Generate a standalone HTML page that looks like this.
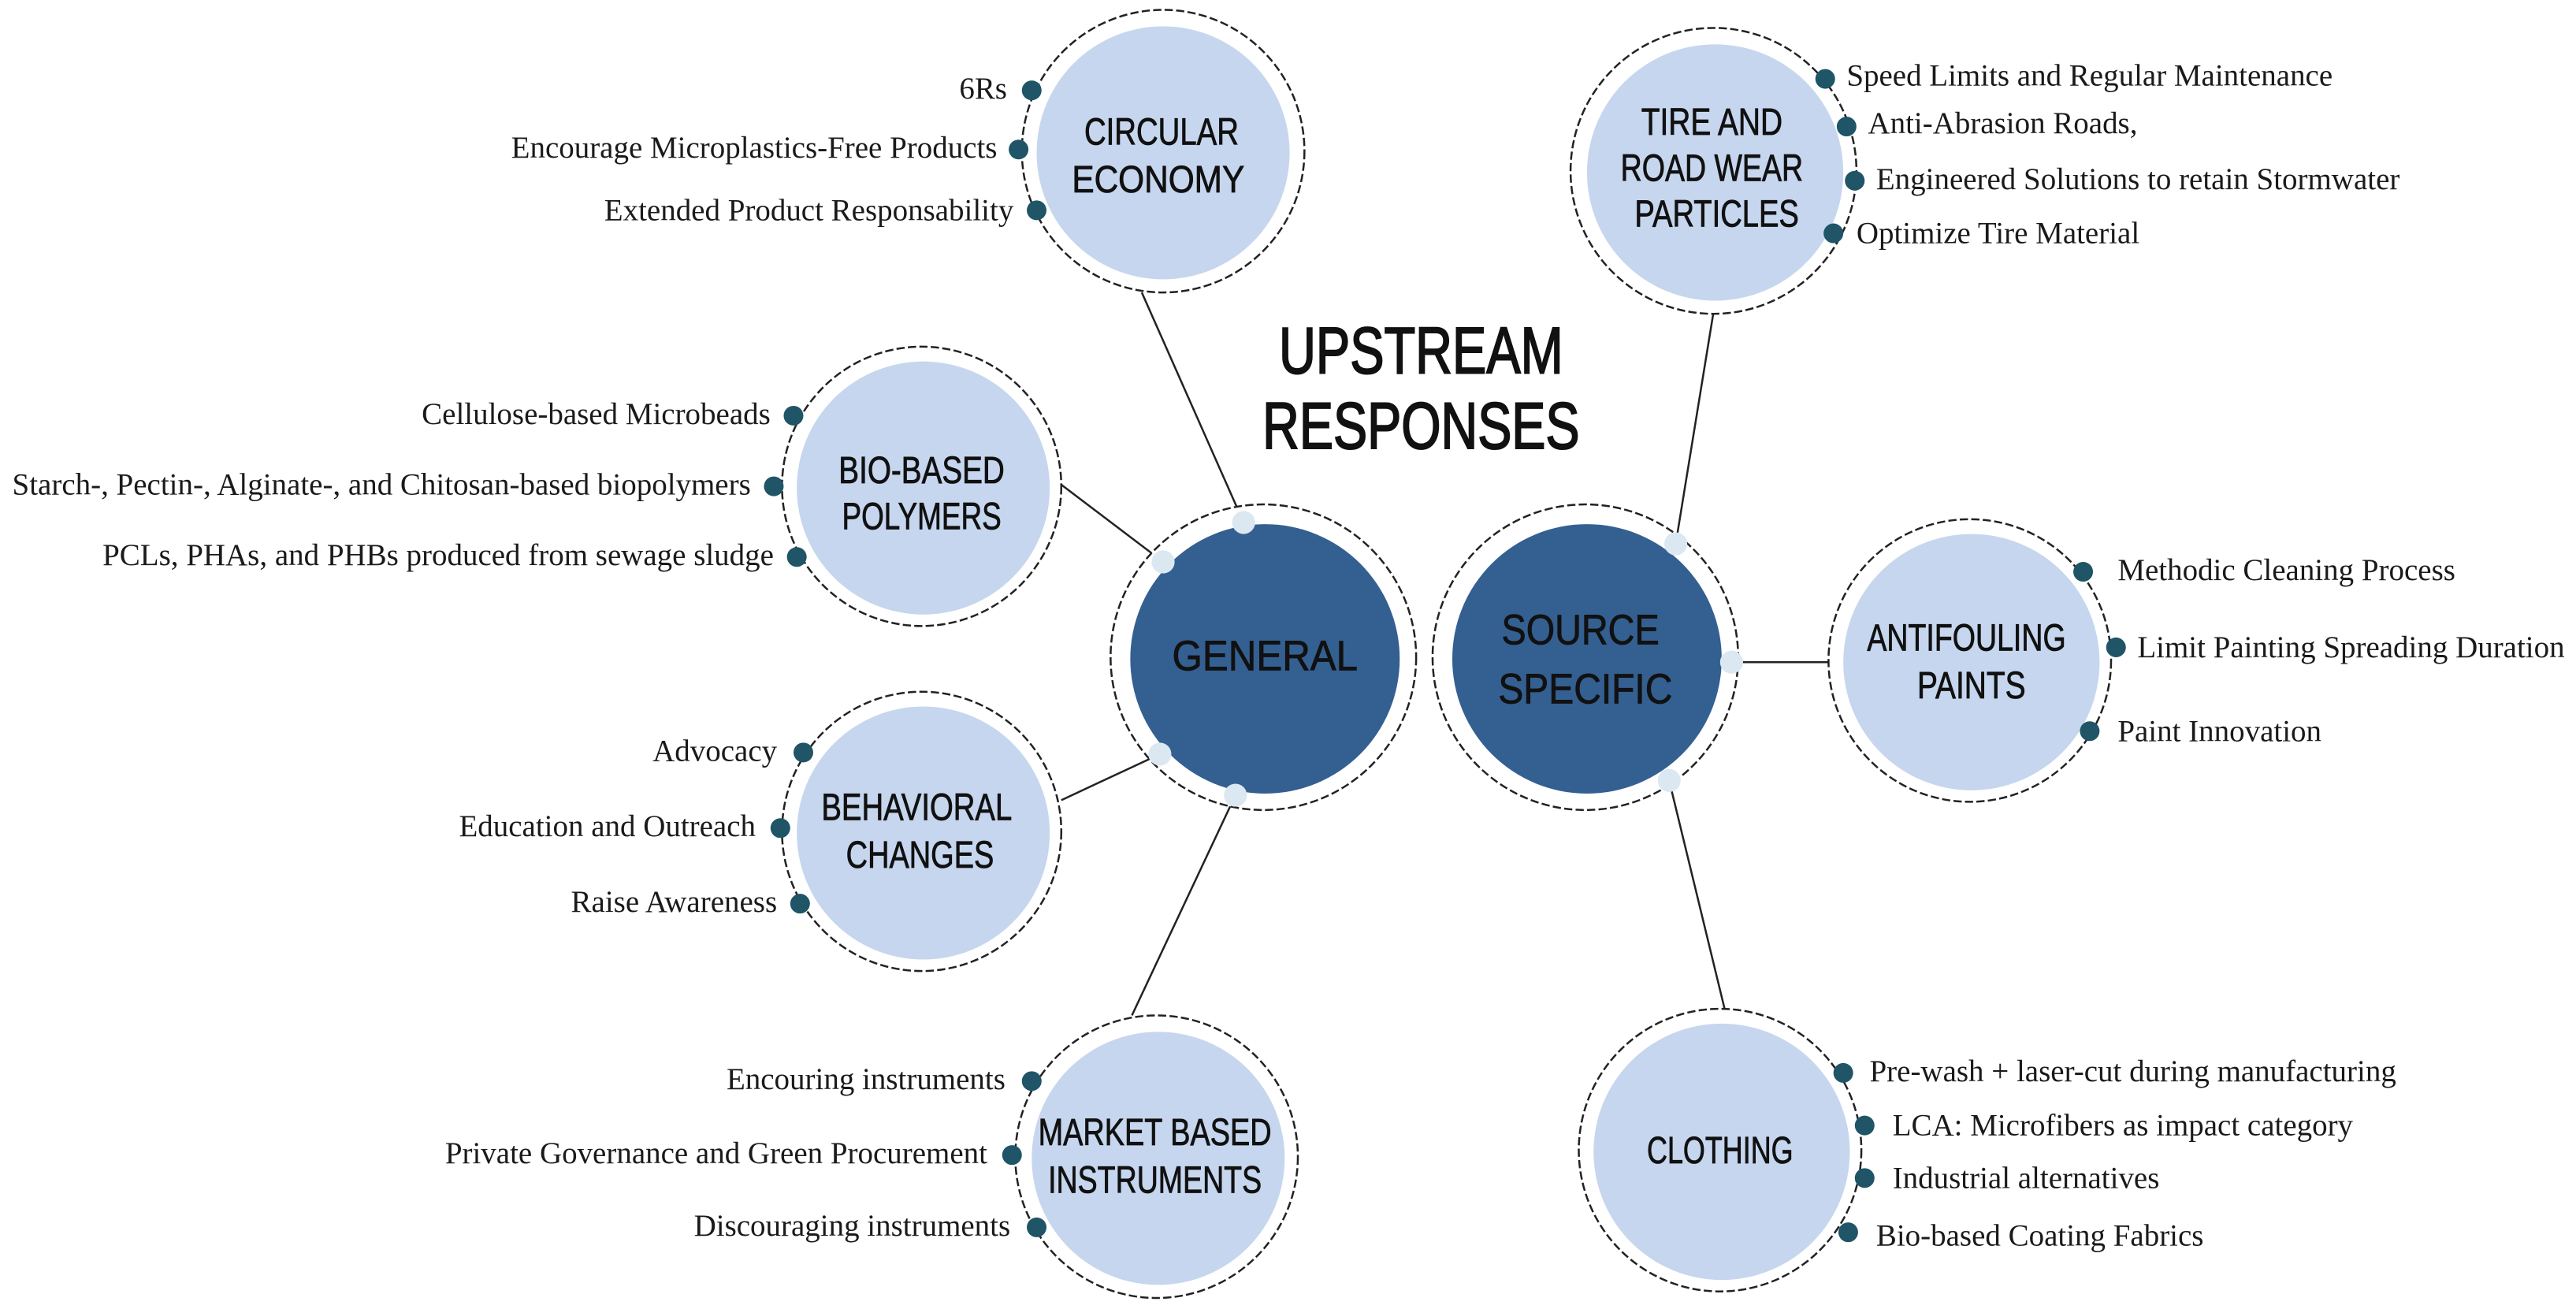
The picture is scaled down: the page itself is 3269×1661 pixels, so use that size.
<!DOCTYPE html>
<html><head><meta charset="utf-8"><style>
html,body{margin:0;padding:0;background:#fff;}
svg{display:block;}
.lbl{font-family:"Liberation Serif",serif;font-size:18.7px;fill:#1a1a1a;}
.nd{font-family:"Liberation Sans",sans-serif;font-size:23px;fill:#111;stroke:#111;stroke-width:0.4;text-anchor:middle;}
.ttl{font-family:"Liberation Sans",sans-serif;font-size:40px;fill:#111;stroke:#111;stroke-width:1;text-anchor:middle;}
</style></head><body>
<svg width="3269" height="1661" viewBox="0 0 1568 796.7" preserveAspectRatio="none" xmlns="http://www.w3.org/2000/svg">
<g stroke="#222" stroke-width="1.2" fill="none">
<line x1="757" y1="318" x2="695" y2="178"/>
<line x1="708" y1="342" x2="646" y2="295"/>
<line x1="706" y1="459" x2="646" y2="487"/>
<line x1="752" y1="484" x2="689" y2="618"/>
<line x1="1020" y1="331" x2="1043" y2="190"/>
<line x1="1054" y1="403" x2="1114" y2="403"/>
<line x1="1016" y1="475" x2="1050" y2="615"/>
</g>
<g stroke="#222" stroke-width="1.2" stroke-dasharray="5 2" fill="#fff">
<circle cx="769" cy="400" r="93"/>
<circle cx="965" cy="400" r="93"/>
<circle cx="708" cy="92" r="86"/>
<circle cx="561" cy="296" r="85"/>
<circle cx="561" cy="506" r="85"/>
<circle cx="704" cy="704" r="86"/>
<circle cx="1043" cy="104" r="87"/>
<circle cx="1199" cy="402" r="86"/>
<circle cx="1047" cy="700" r="86"/>
</g>
<g fill="#345f91">
<circle cx="770" cy="401" r="82"/>
<circle cx="966" cy="401" r="82"/>
</g>
<g fill="#c6d6ee">
<circle cx="708" cy="93" r="77"/>
<circle cx="562" cy="297" r="77"/>
<circle cx="562" cy="507" r="77"/>
<circle cx="705" cy="705" r="77"/>
<circle cx="1044" cy="105" r="78"/>
<circle cx="1200" cy="403" r="78"/>
<circle cx="1048" cy="701" r="78"/>
</g>
<g fill="#dbe8f1">
<circle cx="757" cy="318" r="7"/><circle cx="708" cy="342" r="7"/><circle cx="706" cy="459" r="7"/><circle cx="752" cy="484" r="7"/>
<circle cx="1020" cy="331" r="7"/><circle cx="1054" cy="403" r="7"/><circle cx="1016" cy="475" r="7"/>
</g>
<g fill="#1f5566">
<circle cx="628" cy="55" r="6"/><circle cx="620" cy="91" r="6"/><circle cx="631" cy="128" r="6"/>
<circle cx="483" cy="253" r="6"/><circle cx="471" cy="296" r="6"/><circle cx="485" cy="339" r="6"/>
<circle cx="489" cy="458" r="6"/><circle cx="475" cy="504" r="6"/><circle cx="487" cy="550" r="6"/>
<circle cx="628" cy="658" r="6"/><circle cx="616" cy="703" r="6"/><circle cx="631" cy="747" r="6"/>
<circle cx="1111" cy="48" r="6"/><circle cx="1124" cy="77" r="6"/><circle cx="1129" cy="110" r="6"/><circle cx="1116" cy="142" r="6"/>
<circle cx="1268" cy="348" r="6"/><circle cx="1288" cy="394" r="6"/><circle cx="1272" cy="445" r="6"/>
<circle cx="1122" cy="653" r="6"/><circle cx="1135" cy="685" r="6"/><circle cx="1135" cy="717" r="6"/><circle cx="1125" cy="750" r="6"/>
</g>
<text class="ttl" x="865" y="227" textLength="173" lengthAdjust="spacingAndGlyphs">UPSTREAM</text>
<text class="ttl" x="865" y="273" textLength="193" lengthAdjust="spacingAndGlyphs">RESPONSES</text>
<text class="nd" x="770" y="408" style="font-size:26px" textLength="113" lengthAdjust="spacingAndGlyphs">GENERAL</text>
<text class="nd" x="962" y="392" style="font-size:26px" textLength="96" lengthAdjust="spacingAndGlyphs">SOURCE</text>
<text class="nd" x="965" y="428" style="font-size:26px" textLength="106" lengthAdjust="spacingAndGlyphs">SPECIFIC</text>
<text class="nd" x="707" y="88" textLength="94" lengthAdjust="spacingAndGlyphs">CIRCULAR</text><text class="nd" x="705" y="117" textLength="105" lengthAdjust="spacingAndGlyphs">ECONOMY</text>
<text class="nd" x="561" y="294" textLength="101" lengthAdjust="spacingAndGlyphs">BIO-BASED</text><text class="nd" x="561" y="322" textLength="97" lengthAdjust="spacingAndGlyphs">POLYMERS</text>
<text class="nd" x="558" y="499" textLength="116" lengthAdjust="spacingAndGlyphs">BEHAVIORAL</text><text class="nd" x="560" y="528" textLength="90" lengthAdjust="spacingAndGlyphs">CHANGES</text>
<text class="nd" x="703" y="697" textLength="142" lengthAdjust="spacingAndGlyphs">MARKET BASED</text><text class="nd" x="703" y="726" textLength="130" lengthAdjust="spacingAndGlyphs">INSTRUMENTS</text>
<text class="nd" x="1042" y="82" textLength="86" lengthAdjust="spacingAndGlyphs">TIRE AND</text><text class="nd" x="1042" y="110" textLength="111" lengthAdjust="spacingAndGlyphs">ROAD WEAR</text><text class="nd" x="1045" y="138" textLength="100" lengthAdjust="spacingAndGlyphs">PARTICLES</text>
<text class="nd" x="1197" y="396" textLength="121" lengthAdjust="spacingAndGlyphs">ANTIFOULING</text><text class="nd" x="1200" y="425" textLength="66" lengthAdjust="spacingAndGlyphs">PAINTS</text>
<text class="nd" x="1047" y="708" textLength="89" lengthAdjust="spacingAndGlyphs">CLOTHING</text>
<g class="lbl" text-anchor="end">
<text x="613" y="60">6Rs</text>
<text x="607" y="96">Encourage Microplastics-Free Products</text>
<text x="617" y="134">Extended Product Responsability</text>
<text x="469" y="258">Cellulose-based Microbeads</text>
<text x="457" y="301">Starch-, Pectin-, Alginate-, and Chitosan-based biopolymers</text>
<text x="471" y="344">PCLs, PHAs, and PHBs produced from sewage sludge</text>
<text x="473" y="463">Advocacy</text>
<text x="460" y="509">Education and Outreach</text>
<text x="473" y="555">Raise Awareness</text>
<text x="612" y="663">Encouring instruments</text>
<text x="601" y="708">Private Governance and Green Procurement</text>
<text x="615" y="752">Discouraging instruments</text>
</g>
<g class="lbl">
<text x="1124" y="52">Speed Limits and Regular Maintenance</text>
<text x="1137" y="81">Anti-Abrasion Roads,</text>
<text x="1142" y="115">Engineered Solutions to retain Stormwater</text>
<text x="1130" y="148">Optimize Tire Material</text>
<text x="1289" y="353">Methodic Cleaning Process</text>
<text x="1301" y="400">Limit Painting Spreading Duration</text>
<text x="1289" y="451">Paint Innovation</text>
<text x="1138" y="658">Pre-wash + laser-cut during manufacturing</text>
<text x="1152" y="691">LCA: Microfibers as impact category</text>
<text x="1152" y="723">Industrial alternatives</text>
<text x="1142" y="758">Bio-based Coating Fabrics</text>
</g>
</svg>
</body></html>
